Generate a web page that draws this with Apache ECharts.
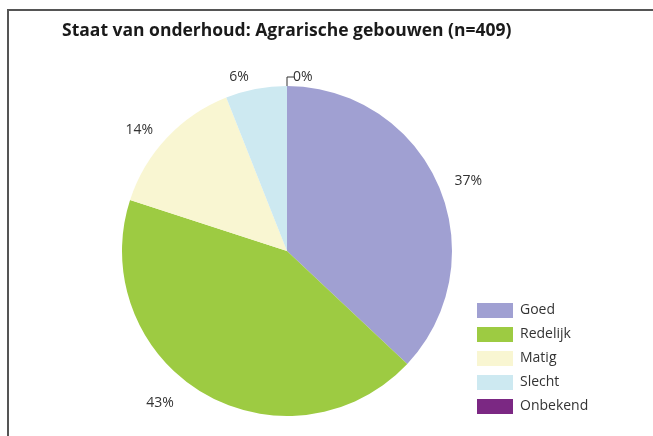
<!DOCTYPE html>
<html>
<head>
<meta charset="utf-8">
<script src="https://cdn.jsdelivr.net/npm/echarts@6/dist/echarts.min.js"></script>
<style>
  html, body { margin: 0; padding: 0; background: #fff; }
  #chart { width: 653px; height: 436px; }
</style>
</head>
<body>
<div id="chart"></div>
<script>
// data
const categories = ['Goed', 'Redelijk', 'Matig', 'Slecht', 'Onbekend'];
const values = [37, 43, 14, 6, 0];
const colors = ['#a0a0d2', '#9dcb42', '#f9f6d2', '#cde9f1', '#7b2883'];
const titleText = 'Staat van onderhoud: Agrarische gebouwen (n=409)';

const FONT = 'Open Sans';
const TEXT_COLOR = '#333';

const chart = echarts.init(document.getElementById('chart'));

// per-slice label tweaks (43% staat verder naar links in het origineel)
const itemFor = (name, i) => {
  const item = { name, value: values[i], itemStyle: { color: colors[i] } };
  if (name === 'Redelijk') {
    item.label = { padding: [0, 18, 0, 0] };
  }
  if (values[i] === 0) {
    item.labelLine = { show: true, length: 9, length2: 7, lineStyle: { color: '#333', width: 1 } };
    item.label = { padding: [0, 0, 10, -6] };
  }
  return item;
};

const option = {
  backgroundColor: '#fff',
  animation: false,
  title: {
    text: titleText,
    left: 57,
    top: 17,
    textStyle: {
      fontFamily: FONT,
      fontSize: 17.5,
      fontWeight: 'bold',
      color: '#1a1a1a'
    }
  },
  legend: {
    orient: 'vertical',
    left: 472,
    top: 298,
    itemWidth: 36,
    itemHeight: 15,
    itemGap: 9,
    icon: 'rect',
    data: categories,
    textStyle: { fontFamily: FONT, fontSize: 14, color: TEXT_COLOR, padding: [0, 0, 0, 2] }
  },
  // kader links en boven
  graphic: [{
    type: 'polyline',
    shape: { points: [[8, 436], [8, 10], [653, 10]] },
    style: { stroke: '#555', lineWidth: 2, fill: null }
  }],
  series: [{
    type: 'pie',
    center: [287, 251],
    radius: 165,
    startAngle: 89.999,
    clockwise: true,
    minAngle: 0,
    avoidLabelOverlap: false,
    itemStyle: { borderWidth: 0 },
    label: {
      position: 'outside',
      formatter: '{c}%',
      fontFamily: FONT,
      fontSize: 14,
      color: TEXT_COLOR
    },
    labelLine: { show: false, length: 12, length2: 0 },
    emphasis: { disabled: true },
    data: categories.map(itemFor)
  }]
};

chart.setOption(option);
</script>
</body>
</html>
